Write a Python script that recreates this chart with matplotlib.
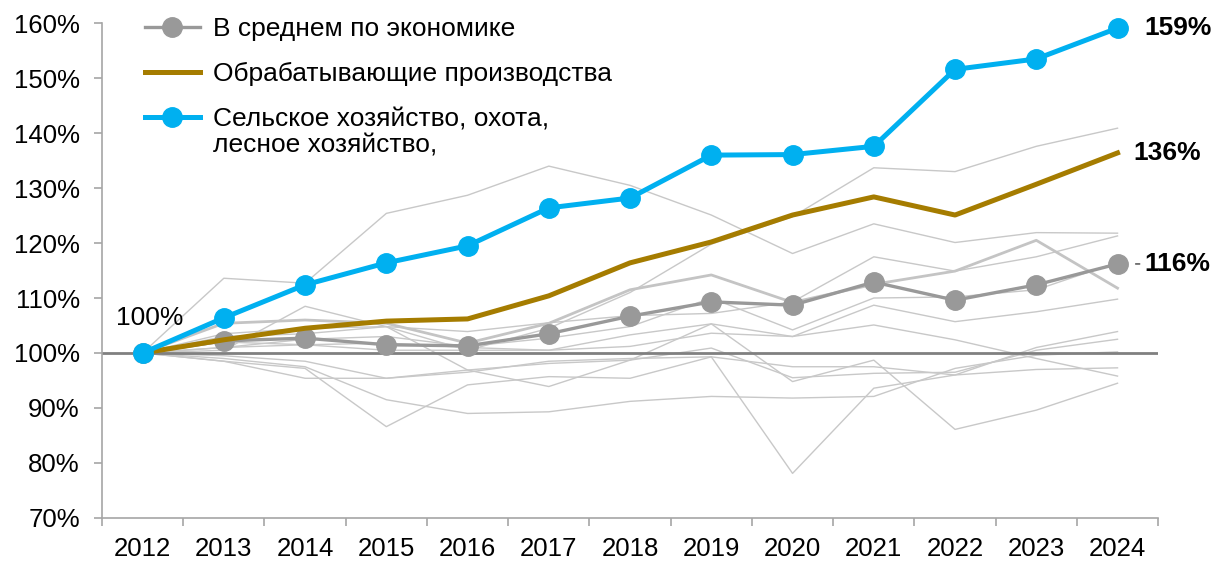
import numpy as np
import matplotlib
matplotlib.use("Agg")
import matplotlib.pyplot as plt

plt.rcParams['font.family'] = ['Liberation Sans', 'DejaVu Sans']

# =========================
# Data (index, 2012 = 100%)
# =========================
years = list(range(2012, 2025))

avg_economy = [100, 102.2, 102.7, 101.5, 101.3, 103.5, 106.7, 109.3, 108.7, 112.9, 109.6, 112.4, 116.2]
manufacturing = [100, 102.4, 104.5, 105.8, 106.2, 110.4, 116.4, 120.2, 125.1, 128.4, 125.1, 130.7, 136.4]
agriculture = [100, 106.4, 112.4, 116.4, 119.5, 126.4, 128.2, 136.0, 136.1, 137.6, 151.6, 153.5, 159.1]

# other industries (thin background lines)
other_a = [100, 113.6, 112.7, 125.4, 128.7, 134.0, 130.5, 125.1, 118.1, 123.5, 120.1, 121.9, 121.8]
other_b = [100, 103.5, 104.5, 104.8, 100.5, 104.5, 111.0, 119.8, 124.8, 133.7, 133.0, 137.6, 140.9]
other_d = [100, 103.0, 103.5, 104.8, 103.9, 105.5, 106.8, 107.2, 109.3, 117.5, 114.9, 117.5, 121.3]
other_e = [100, 101.0, 102.5, 103.0, 101.2, 102.7, 104.8, 110.0, 104.2, 110.0, 110.2, 111.5, 116.5]
other_f = [100, 102.0, 101.5, 100.5, 100.5, 100.5, 103.3, 105.3, 103.0, 108.7, 105.7, 107.5, 109.8]
other_g = [100, 98.5, 97.2, 86.6, 94.2, 95.7, 95.4, 99.3, 78.1, 93.6, 96.0, 101.0, 103.9]
other_h = [100, 99.5, 98.5, 95.4, 96.9, 98.1, 98.7, 100.9, 95.5, 96.3, 96.5, 100.5, 102.5]
other_i = [100, 101.0, 101.5, 101.8, 101.0, 100.5, 101.2, 103.6, 103.0, 105.1, 102.4, 99.0, 95.8]
other_j = [100, 100.5, 108.5, 104.8, 96.9, 93.9, 98.7, 105.3, 94.8, 98.7, 86.1, 89.6, 94.5]
other_k = [100, 98.5, 95.4, 95.4, 96.5, 98.5, 99.0, 99.3, 97.5, 97.5, 96.0, 97.0, 97.3]
other_l = [100, 99.0, 97.5, 91.5, 89.0, 89.3, 91.2, 92.1, 91.8, 92.1, 97.2, 99.6, 100.2]
# slightly thicker light line
other_c = [100, 105.4, 106.0, 105.4, 101.8, 105.4, 111.5, 114.2, 109.2, 112.5, 114.9, 120.5, 111.8]

others = [other_a, other_b, other_d, other_e, other_f, other_g,
          other_h, other_i, other_j, other_k, other_l]

labels = ["В среднем по экономике",
          "Обрабатывающие производства",
          "Сельское хозяйство, охота,"]
label_cont = "лесное хозяйство,"

# =========================
# Plot
# =========================
fig = plt.figure(figsize=(12.14, 5.66), dpi=100)
ax = fig.add_axes([0.084, 0.085, 0.87, 0.874])

for vals in others:
    ax.plot(years, vals, color="#c8c8c8", linewidth=1.0, zorder=1)
ax.plot(years, other_c, color="#c4c4c4", linewidth=2.0, zorder=1)

ax.axhline(100, color="#808080", linewidth=2, zorder=2)

ax.plot(years, avg_economy, color="#999999", linewidth=2.4, marker="o",
        markersize=14, label=labels[0], zorder=3)
ax.plot(years, manufacturing, color="#a57c00", linewidth=3.6,
        label=labels[1], zorder=4)
ax.plot(years, agriculture, color="#00b0f0", linewidth=3.6, marker="o",
        markersize=14, label=labels[2], zorder=5, clip_on=False)

# value labels
lbl_fs = 19
ax.annotate("159%", (years[-1], agriculture[-1]), xytext=(19, 0),
            textcoords="offset points", va="center", ha="left",
            fontsize=lbl_fs, fontweight="bold")
ax.annotate("136%", (years[-1], manufacturing[-1]), xytext=(11.5, 0),
            textcoords="offset points", va="center", ha="left",
            fontsize=lbl_fs, fontweight="bold")
ax.annotate("116%", (years[-1], avg_economy[-1]), xytext=(19, 0),
            textcoords="offset points", va="center", ha="left",
            fontsize=lbl_fs, fontweight="bold")
ax.annotate("", (years[-1], avg_economy[-1]), xytext=(16, 0),
            textcoords="offset points",
            arrowprops=dict(arrowstyle="-", color="#404040", lw=1,
                            shrinkA=0, shrinkB=13))
ax.annotate("100%", (years[0], agriculture[0]), xytext=(-19, 25),
            textcoords="offset points", va="center", ha="left",
            fontsize=lbl_fs)

# axes
tick_fs = 18.5
ax.set_xlim(2011.5, 2024.5)
ax.set_ylim(70, 160)
ax.set_xticks(years)
ax.set_xticks(np.arange(2011.5, 2025, 1), minor=True)
ax.tick_params(axis="x", which="major", length=0, labelsize=tick_fs, pad=14)
ax.tick_params(axis="x", which="minor", length=6, color="#a6a6a6", width=1.2)
ax.set_yticks(np.arange(70, 161, 10))
ax.set_yticklabels([f"{v}%" for v in range(70, 161, 10)])
ax.tick_params(axis="y", length=6, color="#a6a6a6", width=1.2,
               labelsize=tick_fs, pad=10)

for side in ["top", "right"]:
    ax.spines[side].set_visible(False)
for side in ["left", "bottom"]:
    ax.spines[side].set_color("#a6a6a6")
    ax.spines[side].set_linewidth(1.2)

leg = ax.legend(loc="upper left", bbox_to_anchor=(0.0305, 1.034), frameon=False,
                fontsize=19, handlelength=2.1, handletextpad=0.5,
                labelspacing=0.8, borderaxespad=0)
# second line of the third legend entry (drawn after the legend)
ax.annotate(label_cont, xy=(0, 0), xycoords=leg.get_texts()[2],
            xytext=(0, -1.5), textcoords="offset points",
            ha="left", va="top", fontsize=19, zorder=10,
            annotation_clip=False)

fig.savefig("out.png", dpi=100)
